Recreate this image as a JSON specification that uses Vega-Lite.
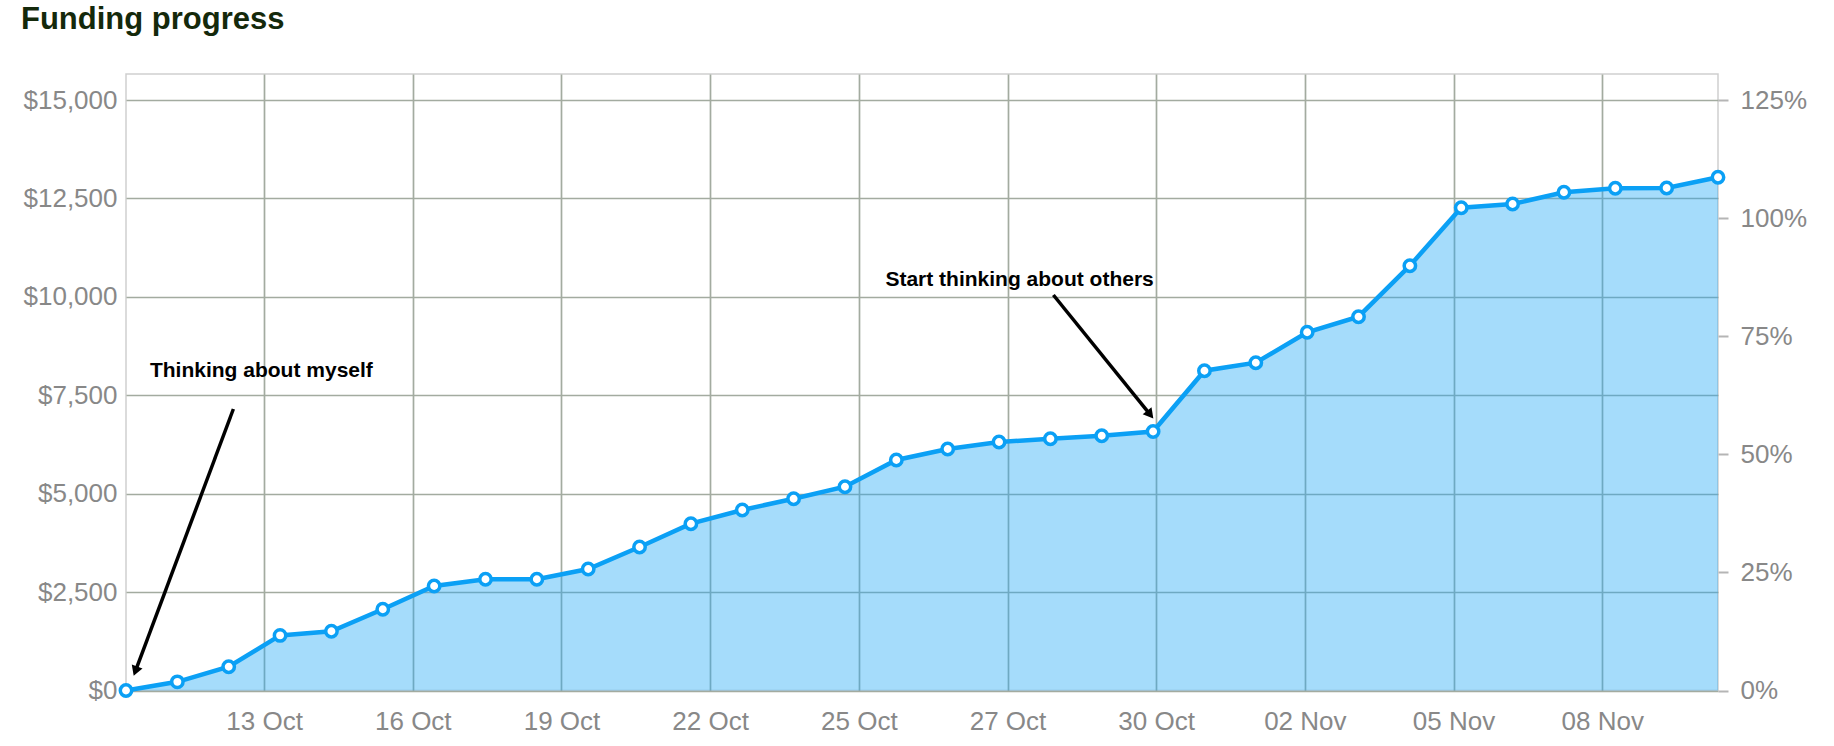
{
  "$schema": "https://vega.github.io/schema/vega-lite/v6.json",
  "autosize": {"type": "none"},
  "padding": {"left": 126, "top": 74, "right": 116, "bottom": 55.5},
  "width": 1592,
  "height": 616.5,
  "background": "white",
  "config": {
    "font": "Liberation Sans",
    "view": {"stroke": "#cfcfcf", "strokeWidth": 1.5}
  },
  "title": {
    "text": "Funding progress",
    "anchor": "start",
    "frame": "group",
    "dx": -105,
    "offset": 14,
    "baseline": "alphabetic",
    "font": "Liberation Sans",
    "fontSize": 31,
    "fontWeight": "bold",
    "color": "#14290b"
  },
  "datasets": {
    "funding": [
      {"date": "2013-10-10T19:00:00Z", "value": 0},
      {"date": "2013-10-11T19:00:00Z", "value": 220},
      {"date": "2013-10-12T19:00:00Z", "value": 605},
      {"date": "2013-10-13T19:00:00Z", "value": 1400},
      {"date": "2013-10-14T19:00:00Z", "value": 1505},
      {"date": "2013-10-15T19:00:00Z", "value": 2065},
      {"date": "2013-10-16T19:00:00Z", "value": 2655},
      {"date": "2013-10-17T19:00:00Z", "value": 2825},
      {"date": "2013-10-18T19:00:00Z", "value": 2825},
      {"date": "2013-10-19T19:00:00Z", "value": 3087},
      {"date": "2013-10-20T19:00:00Z", "value": 3646},
      {"date": "2013-10-21T19:00:00Z", "value": 4238},
      {"date": "2013-10-22T19:00:00Z", "value": 4586},
      {"date": "2013-10-23T19:00:00Z", "value": 4873},
      {"date": "2013-10-24T19:00:00Z", "value": 5178},
      {"date": "2013-10-25T19:00:00Z", "value": 5856},
      {"date": "2013-10-26T19:00:00Z", "value": 6136},
      {"date": "2013-10-27T19:00:00Z", "value": 6313},
      {"date": "2013-10-28T19:00:00Z", "value": 6397},
      {"date": "2013-10-29T19:00:00Z", "value": 6474},
      {"date": "2013-10-30T19:00:00Z", "value": 6580},
      {"date": "2013-10-31T19:00:00Z", "value": 8125},
      {"date": "2013-11-01T19:00:00Z", "value": 8328},
      {"date": "2013-11-02T19:00:00Z", "value": 9100},
      {"date": "2013-11-03T19:00:00Z", "value": 9497},
      {"date": "2013-11-04T19:00:00Z", "value": 10793},
      {"date": "2013-11-05T19:00:00Z", "value": 12266},
      {"date": "2013-11-06T19:00:00Z", "value": 12360},
      {"date": "2013-11-07T19:00:00Z", "value": 12657},
      {"date": "2013-11-08T19:00:00Z", "value": 12759},
      {"date": "2013-11-09T19:00:00Z", "value": 12767},
      {"date": "2013-11-10T19:00:00Z", "value": 13038}
    ],
    "arrows": [
      {"date": "2013-10-12T21:11:00Z", "value": 7152, "date2": "2013-10-10T23:24:00Z", "value2": 493, "angle": 200.5},
      {"date": "2013-10-28T20:24:00Z", "value": 10048, "date2": "2013-10-30T17:39:00Z", "value2": 7010, "angle": 141}
    ],
    "notes": [
      {"date": "2013-10-11T06:12:00Z", "value": 7973, "label": "Thinking about myself"},
      {"date": "2013-10-25T13:54:00Z", "value": 10277, "label": "Start thinking about others"}
    ]
  },
  "layer": [
    {
      "layer": [
        {
          "data": {"name": "funding"},
          "mark": {"type": "area", "color": "#1ea7f5", "opacity": 0.4},
          "encoding": {
            "x": {
              "field": "date",
              "type": "temporal",
              "title": null,
              "scale": {
                "type": "utc",
                "nice": false,
                "domain": [
                  {"year": 2013, "month": 10, "date": 10, "hours": 19, "utc": true},
                  {"year": 2013, "month": 11, "date": 10, "hours": 19, "utc": true}
                ]
              },
              "axis": {
                "orient": "bottom",
                "format": "%d %b",
                "values": [
                  {"year": 2013, "month": 10, "date": 13, "hours": 11, "minutes": 34, "utc": true},
                  {"year": 2013, "month": 10, "date": 16, "hours": 9, "minutes": 2, "utc": true},
                  {"year": 2013, "month": 10, "date": 19, "hours": 6, "minutes": 31, "utc": true},
                  {"year": 2013, "month": 10, "date": 22, "hours": 4, "minutes": 0, "utc": true},
                  {"year": 2013, "month": 10, "date": 25, "hours": 1, "minutes": 29, "utc": true},
                  {"year": 2013, "month": 10, "date": 27, "hours": 22, "minutes": 58, "utc": true},
                  {"year": 2013, "month": 10, "date": 30, "hours": 20, "minutes": 26, "utc": true},
                  {"year": 2013, "month": 11, "date": 2, "hours": 17, "minutes": 55, "utc": true},
                  {"year": 2013, "month": 11, "date": 5, "hours": 15, "minutes": 24, "utc": true},
                  {"year": 2013, "month": 11, "date": 8, "hours": 12, "minutes": 53, "utc": true}
                ],
                "grid": true,
                "gridColor": "#a3aba0",
                "gridWidth": 1.7,
                "domain": false,
                "ticks": false,
                "labelPadding": 18,
                "labelFontSize": 26,
                "labelColor": "#888888",
                "labelFont": "Liberation Sans",
                "labelOverlap": false
              }
            },
            "y": {
              "field": "value",
              "type": "quantitative",
              "title": null,
              "stack": null,
              "scale": {"domain": [0, 15663], "nice": false, "zero": true},
              "axis": {
                "orient": "left",
                "values": [0, 2500, 5000, 7500, 10000, 12500, 15000],
                "format": "$,.0f",
                "grid": true,
                "gridColor": "#a3aba0",
                "gridWidth": 1.7,
                "domain": false,
                "ticks": false,
                "labelPadding": 9,
                "labelFontSize": 26,
                "labelColor": "#888888",
                "labelFont": "Liberation Sans"
              }
            }
          }
        },
        {
          "mark": {"type": "rule", "color": "#36d46c", "strokeWidth": 2},
          "encoding": {
            "y": {"datum": 12000, "type": "quantitative"}
          }
        },
        {
          "data": {"name": "funding"},
          "mark": {"type": "line", "color": "#0ba0f5", "strokeWidth": 4.5},
          "encoding": {
            "x": {"field": "date", "type": "temporal"},
            "y": {"field": "value", "type": "quantitative"}
          }
        },
        {
          "data": {"name": "funding"},
          "mark": {"type": "point", "filled": true, "fill": "white", "stroke": "#0ba0f5", "strokeWidth": 3.5, "size": 130, "opacity": 1},
          "encoding": {
            "x": {"field": "date", "type": "temporal"},
            "y": {"field": "value", "type": "quantitative"}
          }
        },
        {
          "data": {"name": "arrows"},
          "mark": {"type": "rule", "color": "black", "strokeWidth": 3.5},
          "encoding": {
            "x": {"field": "date", "type": "temporal"},
            "x2": {"field": "date2"},
            "y": {"field": "value", "type": "quantitative"},
            "y2": {"field": "value2"}
          }
        },
        {
          "data": {"name": "arrows"},
          "mark": {"type": "point", "shape": "triangle-up", "filled": true, "color": "black", "size": 130, "opacity": 1},
          "encoding": {
            "x": {"field": "date2", "type": "temporal"},
            "y": {"field": "value2", "type": "quantitative"},
            "angle": {"field": "angle", "type": "quantitative", "scale": null}
          }
        },
        {
          "data": {"name": "notes"},
          "mark": {"type": "text", "align": "left", "baseline": "alphabetic", "font": "Liberation Sans", "fontSize": 21, "fontWeight": "bold", "color": "black"},
          "encoding": {
            "x": {"field": "date", "type": "temporal"},
            "y": {"field": "value", "type": "quantitative"},
            "text": {"field": "label", "type": "nominal"}
          }
        }
      ]
    },
    {
      "mark": {"type": "rule", "opacity": 0},
      "encoding": {
        "y": {
          "datum": 1,
          "type": "quantitative",
          "scale": {"domain": [0, 1.30525], "nice": false},
          "axis": {
            "orient": "right",
            "title": null,
            "values": [0, 0.25, 0.5, 0.75, 1, 1.25],
            "format": ".0%",
            "grid": false,
            "domain": false,
            "ticks": true,
            "tickSize": 10,
            "tickWidth": 2,
            "tickColor": "#b5b5b5",
            "labelPadding": 12,
            "labelFontSize": 26,
            "labelColor": "#888888",
            "labelFont": "Liberation Sans"
          }
        }
      }
    }
  ],
  "resolve": {"scale": {"y": "independent"}, "axis": {"y": "independent"}}
}
